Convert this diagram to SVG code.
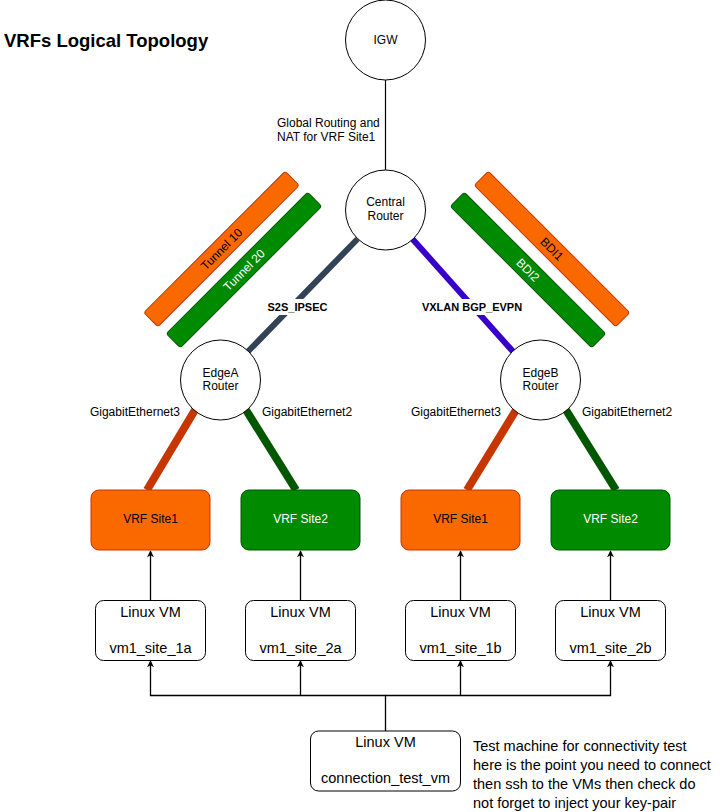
<svg xmlns="http://www.w3.org/2000/svg" width="721" height="812" viewBox="0 0 721 812">
<style>
text{font-family:"Liberation Sans",Arial,Helvetica,sans-serif;fill:#000}
.c{text-anchor:middle}
.f12{font-size:12px}
.f14{font-size:14.5px}
.w{fill:#fff}
.b{font-weight:bold}
.node{fill:#fff;stroke:#000;stroke-width:1}
.orange{fill:#fa6800;stroke:#c73500;stroke-width:1}
.green{fill:#008a00;stroke:#005700;stroke-width:1}
.conn{fill:none;stroke:#000;stroke-width:1.3}
</style>
<defs>
<marker id="arr" viewBox="0 0 10 10" refX="9" refY="5" markerWidth="7" markerHeight="7" markerUnits="userSpaceOnUse" orient="auto">
<path d="M0,0 L10,5 L0,10 L3,5 Z" fill="#000"/>
</marker>
</defs>
<rect width="721" height="812" fill="#fff"/>
<text x="4" y="47" font-size="18.5px" class="b">VRFs Logical Topology</text>

<g id="connectors">
<line x1="385.5" y1="80" x2="385.5" y2="170" stroke="#000" stroke-width="1.2"/>
<line x1="357.5" y1="239" x2="248" y2="351.5" stroke="#314354" stroke-width="6"/>
<line x1="412.5" y1="239" x2="513" y2="351.5" stroke="#3700cc" stroke-width="6"/>
<line x1="195" y1="410" x2="147" y2="490" stroke="#c73500" stroke-width="8"/>
<line x1="246" y1="410" x2="296" y2="490" stroke="#005700" stroke-width="8"/>
<line x1="516" y1="410" x2="467" y2="490" stroke="#c73500" stroke-width="8"/>
<line x1="566" y1="410" x2="616" y2="490" stroke="#005700" stroke-width="8"/>
<line class="conn" x1="150.5" y1="600" x2="150.5" y2="551" marker-end="url(#arr)"/>
<line class="conn" x1="300.5" y1="600" x2="300.5" y2="551" marker-end="url(#arr)"/>
<line class="conn" x1="460.5" y1="600" x2="460.5" y2="551" marker-end="url(#arr)"/>
<line class="conn" x1="610.5" y1="600" x2="610.5" y2="551" marker-end="url(#arr)"/>
<path class="conn" d="M385.5,731 V695.5 H150.5 V661" marker-end="url(#arr)"/>
<path class="conn" d="M300.5,695.5 V661" marker-end="url(#arr)"/>
<path class="conn" d="M385.5,695.5 H610.5 V661" marker-end="url(#arr)"/>
<path class="conn" d="M460.5,695.5 V661" marker-end="url(#arr)"/>
<rect x="265" y="299" width="65" height="16" fill="#fff"/>
<text x="297.5" y="311" class="c b" font-size="11px">S2S_IPSEC</text>
<rect x="420" y="299" width="104" height="16" fill="#fff"/>
<text x="472" y="311" class="c b" font-size="11px">VXLAN BGP_EVPN</text>
<text x="277" y="127" class="f12">Global Routing and</text>
<text x="277" y="140.5" class="f12">NAT for VRF Site1</text>
<text x="180" y="416" class="f12" text-anchor="end">GigabitEthernet3</text>
<text x="262" y="416" class="f12">GigabitEthernet2</text>
<text x="501" y="416" class="f12" text-anchor="end">GigabitEthernet3</text>
<text x="582" y="416" class="f12">GigabitEthernet2</text>
</g>

<g id="igw">
<circle class="node" cx="385.5" cy="40" r="40"/>
<text x="385.5" y="44" class="c f12">IGW</text>
</g>
<g id="central-router">
<circle class="node" cx="385.5" cy="210" r="40"/>
<text x="385.5" y="206" class="c f12">Central</text>
<text x="385.5" y="220" class="c f12">Router</text>
</g>
<g id="tunnel10">
<g transform="translate(221.5,249) rotate(-45)">
<rect class="orange" x="-100" y="-10" width="200" height="20" rx="3"/>
<text x="0" y="4.3" class="c f12">Tunnel 10</text>
</g>
</g>
<g id="tunnel20">
<g transform="translate(244,270) rotate(-45)">
<rect class="green" x="-100" y="-10" width="200" height="20" rx="3"/>
<text x="0" y="4.3" class="c f12 w">Tunnel 20</text>
</g>
</g>
<g id="bdi1">
<g transform="translate(552,249) rotate(45)">
<rect class="orange" x="-100" y="-10" width="200" height="20" rx="3"/>
<text x="0" y="4.3" class="c f12">BDI1</text>
</g>
</g>
<g id="bdi2">
<g transform="translate(528,270) rotate(45)">
<rect class="green" x="-100" y="-10" width="200" height="20" rx="3"/>
<text x="0" y="4.3" class="c f12 w">BDI2</text>
</g>
</g>
<g id="edgea-router">
<circle class="node" cx="220.5" cy="380" r="40"/>
<text x="220.5" y="377" class="c f12">EdgeA</text>
<text x="220.5" y="390" class="c f12">Router</text>
</g>
<g id="edgeb-router">
<circle class="node" cx="540.5" cy="380" r="40"/>
<text x="540.5" y="377" class="c f12">EdgeB</text>
<text x="540.5" y="390" class="c f12">Router</text>
</g>
<g id="vrf-a-site1">
<rect class="orange" x="91" y="490" width="119" height="60" rx="8" stroke="#fa6800"/>
<text x="150.5" y="522.5" class="c f12">VRF Site1</text>
</g>
<g id="vrf-a-site2">
<rect class="green" x="241" y="490" width="119" height="60" rx="8" stroke="#008a00"/>
<text x="300.5" y="522.5" class="c f12 w">VRF Site2</text>
</g>
<g id="vrf-b-site1">
<rect class="orange" x="401" y="490" width="119" height="60" rx="8" stroke="#fa6800"/>
<text x="460.5" y="522.5" class="c f12">VRF Site1</text>
</g>
<g id="vrf-b-site2">
<rect class="green" x="551" y="490" width="119" height="60" rx="8" stroke="#008a00"/>
<text x="610.5" y="522.5" class="c f12 w">VRF Site2</text>
</g>
<g id="vm1-site-1a">
<rect class="node" x="95.5" y="600.5" width="110" height="60" rx="8"/>
<text x="150.5" y="617" class="c f14">Linux VM</text>
<text x="150.5" y="653" class="c f14">vm1_site_1a</text>
</g>
<g id="vm1-site-2a">
<rect class="node" x="245.5" y="600.5" width="110" height="60" rx="8"/>
<text x="300.5" y="617" class="c f14">Linux VM</text>
<text x="300.5" y="653" class="c f14">vm1_site_2a</text>
</g>
<g id="vm1-site-1b">
<rect class="node" x="405.5" y="600.5" width="110" height="60" rx="8"/>
<text x="460.5" y="617" class="c f14">Linux VM</text>
<text x="460.5" y="653" class="c f14">vm1_site_1b</text>
</g>
<g id="vm1-site-2b">
<rect class="node" x="555.5" y="600.5" width="110" height="60" rx="8"/>
<text x="610.5" y="617" class="c f14">Linux VM</text>
<text x="610.5" y="653" class="c f14">vm1_site_2b</text>
</g>
<g id="connection-test-vm">
<rect class="node" x="310.5" y="731" width="150" height="60" rx="8"/>
<text x="385.5" y="747" class="c f14">Linux VM</text>
<text x="385.5" y="783" class="c f14">connection_test_vm</text>
</g>
<g id="test-note">
<text x="473" y="751" class="f14">Test machine for connectivity test</text>
<text x="473" y="770" class="f14">here is the point you need to connect</text>
<text x="473" y="789" class="f14">then ssh to the VMs then check do</text>
<text x="473" y="808" class="f14">not forget to inject your key-pair</text>
</g>
</svg>
